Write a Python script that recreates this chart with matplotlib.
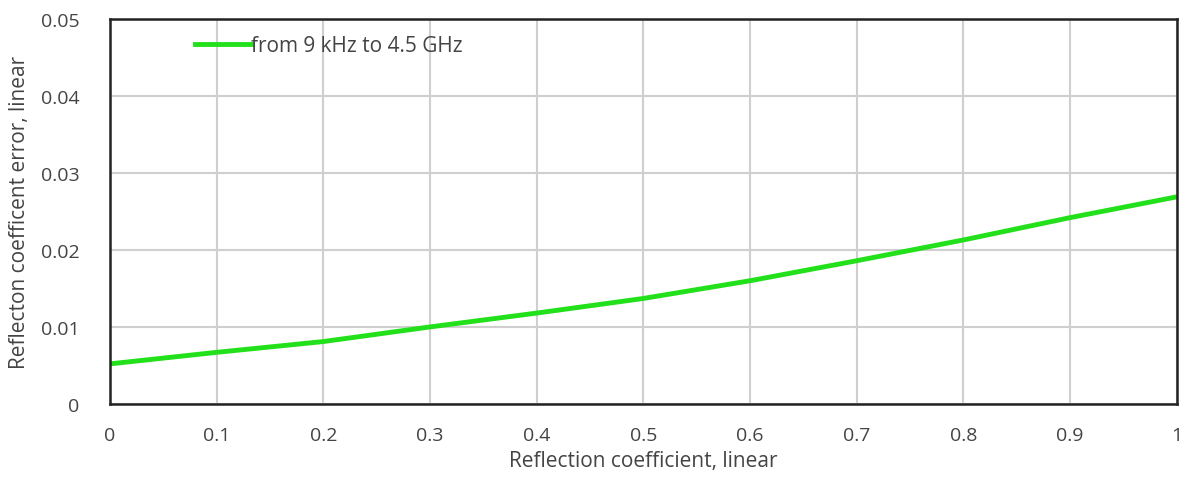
import matplotlib
matplotlib.use('Agg')
import matplotlib.pyplot as plt
import numpy as np

# reflection coefficient (linear) and the error
refl_coef = [0.0, 0.1, 0.2, 0.3, 0.4, 0.5, 0.6, 0.7, 0.8, 0.9, 1.0]
refl_err = [0.0052, 0.0067, 0.0081, 0.0100, 0.0118, 0.0137, 0.0160, 0.0186, 0.0213, 0.0242, 0.0269]
series_label = 'from 9 kHz to 4.5 GHz'

x_ticks = [0, 0.1, 0.2, 0.3, 0.4, 0.5, 0.6, 0.7, 0.8, 0.9, 1]
x_tick_labels = ['0', '0.1', '0.2', '0.3', '0.4', '0.5', '0.6', '0.7', '0.8', '0.9', '1']
y_ticks = [0, 0.01, 0.02, 0.03, 0.04, 0.05]
y_tick_labels = ['0', '0.01', '0.02', '0.03', '0.04', '0.05']

plt.rcParams['font.family'] = ['Open Sans', 'DejaVu Sans']

fig = plt.figure(figsize=(11.88, 4.89), dpi=100)
ax = fig.add_axes([0.0926, 0.172, 0.898, 0.787])

ax.plot(refl_coef, refl_err, color='#22e01a', linewidth=3.5, label=series_label)

ax.set_xlim(0, 1)
ax.set_ylim(0, 0.05)
ax.set_xticks(x_ticks)
ax.set_xticklabels(x_tick_labels)
ax.set_yticks(y_ticks)
ax.set_yticklabels(y_tick_labels)
ax.tick_params(length=0, labelsize=14, colors='#444444')
ax.tick_params(axis='x', pad=16)
ax.tick_params(axis='y', pad=22)
ax.grid(True, color='#cfcfcf', linewidth=1.5)
ax.set_axisbelow(True)
for sp in ax.spines.values():
    sp.set_color('#222222')
    sp.set_linewidth(1.8)

ax.set_xlabel('Reflection coefficient, linear', fontsize=15, color='#444444', labelpad=4)
ax.set_ylabel('Reflecton coefficent error, linear', fontsize=15, color='#444444', labelpad=8)

leg = ax.legend(loc='upper left', bbox_to_anchor=(0.068, 0.99), frameon=False,
                fontsize=15, handlelength=2.7, handletextpad=0.0, borderaxespad=0.2)
for t in leg.get_texts():
    t.set_color('#444444')

fig.savefig('out.png', dpi=100)
